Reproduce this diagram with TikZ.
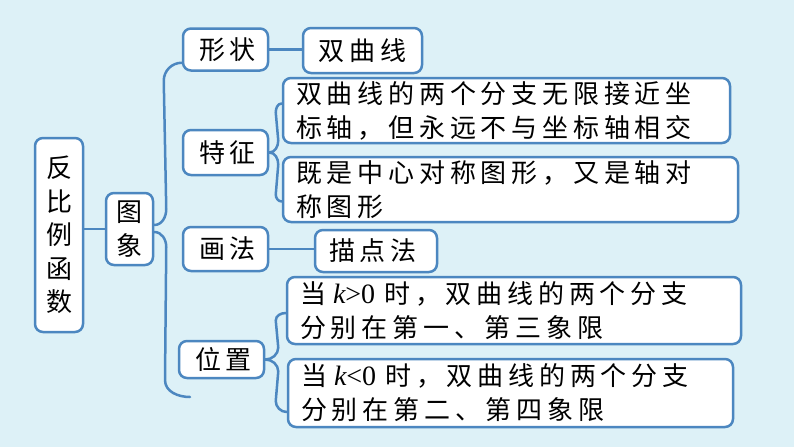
\documentclass[tikz,border=0pt]{standalone}
\usepackage{fontspec}
\usetikzlibrary{calc}
\newfontfamily\cjk[LetterSpace=18.5]{Noto Sans CJK SC}
\newfontfamily\cjkv{Noto Sans CJK SC}
\newfontfamily\lat{Liberation Serif}
\definecolor{bg}{HTML}{DDF1F7}
\definecolor{ln}{HTML}{4C87C0}
\tikzset{
  box/.style={draw=ln, line width=2.5pt, fill=white, rounded corners=8pt, inner sep=0pt},
  lbl/.style={box, minimum width=85pt, align=center, font=\cjk\fontsize{26}{34}\selectfont},
  vlbl/.style={box, align=center, font=\cjkv\fontsize{26}{33.5}\selectfont},
  para/.style={box, align=left, inner xsep=13pt, font=\cjk\fontsize{26}{34}\selectfont},
  conn/.style={draw=ln, line width=2.5pt, line cap=round}
}
\begin{document}
\begin{tikzpicture}[x=1pt,y=-1pt]
\fill[bg] (0,0) rectangle (794,447);
\useasboundingbox (0,0) rectangle (794,447);

\node[vlbl, minimum width=48pt, minimum height=194pt] (root) at (59,235) {反\\比\\例\\函\\数};
\node[vlbl, minimum width=47pt, minimum height=72pt] (tx) at (129.5,229) {图\\象};

\node[lbl, minimum height=42pt] (xz) at (225.5,49.5) {\hspace{4pt}形状};
\node[lbl, minimum height=45pt] (tz) at (225.5,152.5) {\hspace{4pt}特征};
\node[lbl, minimum height=44pt] (hf) at (225.5,249) {\hspace{4pt}画法};
\node[lbl, minimum height=37pt] (wz) at (221.5,359.5) {\hspace{4pt}位置};

\node[lbl, minimum width=119pt, minimum height=45pt] (sqx) at (362.5,50.5) {双曲线};
\node[lbl, minimum width=122pt, minimum height=42pt] (mdf) at (376,251) {描点法\hspace{6pt}};

\node[para, text width=421pt, minimum height=65pt] (b1) at (506.5,110.5)
  {双曲线的两个分支无限接近坐\\标轴，但永远不与坐标轴相交};
\node[para, text width=429pt, minimum height=65pt] (b2) at (510.5,189.5)
  {既是中心对称图形，又是轴对\\称图形};
\node[para, text width=428pt, minimum height=67pt] (b3) at (514,310.5)
  {当\hspace{7pt}{\lat\fontsize{28}{34}\selectfont\itshape k\upshape>0}\hspace{9pt}时，双曲线的两个分支\\分别在第一、第三象限};
\node[para, text width=419pt, minimum height=68pt] (b4) at (510.5,393)
  {当\hspace{7pt}{\lat\fontsize{28}{34}\selectfont\itshape k\upshape<0}\hspace{9pt}时，双曲线的两个分支\\分别在第二、第四象限};

% root to 图象
\draw[conn] (root.east |- tx) -- (tx.west);
% 形状 -> 双曲线, 画法 -> 描点法
\draw[conn] (xz.east) -- (sqx.west |- xz.east);
\draw[conn] (hf.east) -- (mdf.west |- hf.east);

% big bracket from 图象
\coordinate (bend) at (190,397);
\draw[conn] ([yshift=4pt]tx.east) to[out=0,in=-90] ($(tx.east)+(12,-20)$)
  -- ($(xz.south west)+(-18,9)$) to[out=90,in=180] ($(xz.south west)+(0,-9)$);
\draw[conn] ([yshift=-3pt]tx.east) to[out=0,in=90] ($(tx.east)+(12,18)$)
  -- ($(bend)+(-25,-17)$) to[out=-90,in=180] (bend);

% 特征 bracket
\draw[conn] (tz.east) to[out=0,in=-90] ($(tz.east)+(9,-12)$)
  -- ($(b1.west)+(-6,2)$) to[out=90,in=180] ($(b1.west)+(0,-7)$);
\draw[conn] (tz.east) to[out=0,in=90] ($(tz.east)+(9,12)$)
  -- ($(b2.west)+(-6,5)$) to[out=-90,in=180] ($(b2.west)+(0,12)$);

% 位置 bracket
\draw[conn] (wz.east) to[out=0,in=-90] ($(wz.east)+(13,-12)$)
  -- ($(b3.west)+(-10,10)$) to[out=90,in=180] ($(b3.west)+(0,2.5)$);
\draw[conn] (wz.east) to[out=0,in=90] ($(wz.east)+(13,12)$)
  -- ($(b4.west)+(-11,8)$) to[out=-90,in=180] ($(b4.west)+(0,19)$);
\end{tikzpicture}
\end{document}
